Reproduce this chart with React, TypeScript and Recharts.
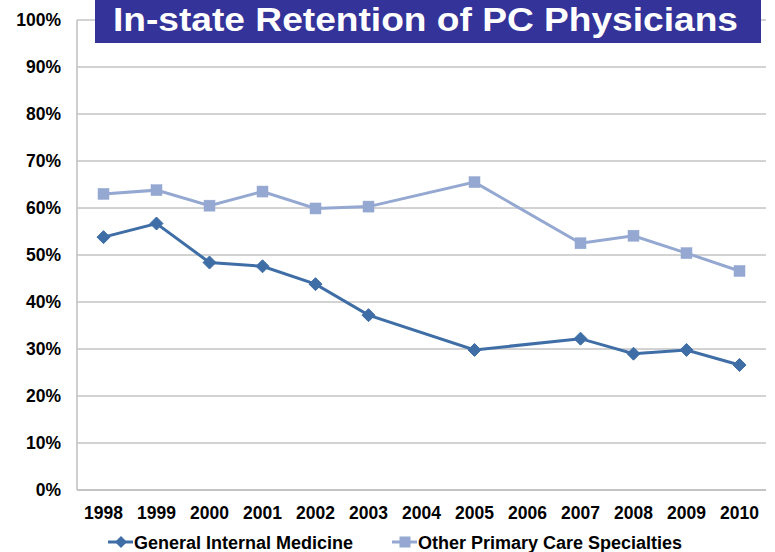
import React from "react";
import { LineChart, Line, XAxis, YAxis, CartesianGrid, Legend } from "recharts";

const years = ["1998", "1999", "2000", "2001", "2002", "2003", "2004", "2005", "2006", "2007", "2008", "2009", "2010"];
const generalInternal = [53.8, 56.7, 48.4, 47.6, 43.8, 37.2, null, 29.8, null, 32.2, 29.0, 29.8, 26.6];
const otherPrimary = [63.0, 63.8, 60.5, 63.5, 59.9, 60.3, null, 65.5, null, 52.5, 54.1, 50.4, 46.6];
const yTicks = [0, 10, 20, 30, 40, 50, 60, 70, 80, 90, 100];
const seriesNames = ["General Internal Medicine", "Other Primary Care Specialties"];
const titleText = "In-state Retention of PC Physicians";

const data = years.map((y, i) => ({ year: y, gim: generalInternal[i], opc: otherPrimary[i] }));

const C1 = "#3F6EA7";
const C2 = "#94A8D1";
const FONT = "'Liberation Sans', Arial, sans-serif";

const Diamond = (props: any) => {
  const { cx, cy } = props;
  if (cx == null || cy == null || props.value == null) return <g key={props.key} />;
  const r = 6.5;
  return (
    <path
      key={props.key}
      d={`M${cx},${cy - r} L${cx + r},${cy} L${cx},${cy + r} L${cx - r},${cy} Z`}
      fill={C1}
      stroke={C1}
      strokeWidth={1}
    />
  );
};

const Square = (props: any) => {
  const { cx, cy } = props;
  if (cx == null || cy == null || props.value == null) return <g key={props.key} />;
  const h = 5.5;
  return <rect key={props.key} x={cx - h} y={cy - h} width={h * 2} height={h * 2} fill={C2} stroke={C2} strokeWidth={0.5} />;
};

const LegendContent = () => (
  <svg width={775} height={24} style={{ display: "block" }}>
    <line x1={108} x2={133} y1={12} y2={12} stroke={C1} strokeWidth={3} />
    <path d="M121,6 L127,12 L121,18 L115,12 Z" fill={C1} />
    <text x={134} y={18.5} fontFamily={FONT} fontWeight="bold" fontSize={18} fill="#000">
      {seriesNames[0]}
    </text>
    <line x1={392} x2={417} y1={12} y2={12} stroke={C2} strokeWidth={3} />
    <rect x={399.5} y={6.5} width={11} height={11} fill={C2} />
    <text x={418} y={18.5} fontFamily={FONT} fontWeight="bold" fontSize={18} fill="#000">
      {seriesNames[1]}
    </text>
  </svg>
);

export default function App() {
  return (
    <div style={{ position: "absolute", left: 0, top: 0, width: 775, height: 552, background: "#fff", fontFamily: FONT }}>
      <LineChart width={775} height={552} data={data} margin={{ top: 20, right: 9, bottom: 32, left: 0 }}>
        <CartesianGrid horizontal vertical={false} stroke="#A6A6A6" strokeWidth={1} />
        <XAxis
          dataKey="year"
          height={30}
          padding={{ left: 26.5, right: 26.5 }}
          axisLine={{ stroke: "#BFBFBF", strokeWidth: 1.5 }}
          tickLine={false}
          tickMargin={11}
          interval={0}
          tick={{ fill: "#000", fontSize: 17.5, fontWeight: "bold", fontFamily: FONT }}
        />
        <YAxis
          width={77}
          domain={[0, 100]}
          ticks={yTicks}
          interval={0}
          tickFormatter={(v: number) => `${v}%`}
          axisLine={{ stroke: "#BFBFBF", strokeWidth: 1.5 }}
          tickLine={false}
          tickMargin={10}
          tick={{ fill: "#000", fontSize: 17.5, fontWeight: "bold", fontFamily: FONT }}
        />
        <Legend
          verticalAlign="middle"
          align="center"
          layout="horizontal"
          content={LegendContent}
          wrapperStyle={{ position: "absolute", top: 530, left: 0, width: 775, height: 24 }}
        />
        <Line
          type="linear"
          dataKey="opc"
          name={seriesNames[1]}
          stroke={C2}
          strokeWidth={3}
          connectNulls
          dot={Square}
          activeDot={false}
          isAnimationActive={false}
        />
        <Line
          type="linear"
          dataKey="gim"
          name={seriesNames[0]}
          stroke={C1}
          strokeWidth={3}
          connectNulls
          dot={Diamond}
          activeDot={false}
          isAnimationActive={false}
        />
      </LineChart>
      <svg width={775} height={45} style={{ position: "absolute", left: 0, top: 0, pointerEvents: "none" }}>
        <rect x={95} y={0} width={666} height={43} fill="#333399" />
        <text
          x={113}
          y={30.5}
          fontFamily={FONT}
          fontWeight="bold"
          fontSize={34}
          fill="#fff"
          textLength={625}
          lengthAdjust="spacingAndGlyphs"
        >
          {titleText}
        </text>
      </svg>
    </div>
  );
}
